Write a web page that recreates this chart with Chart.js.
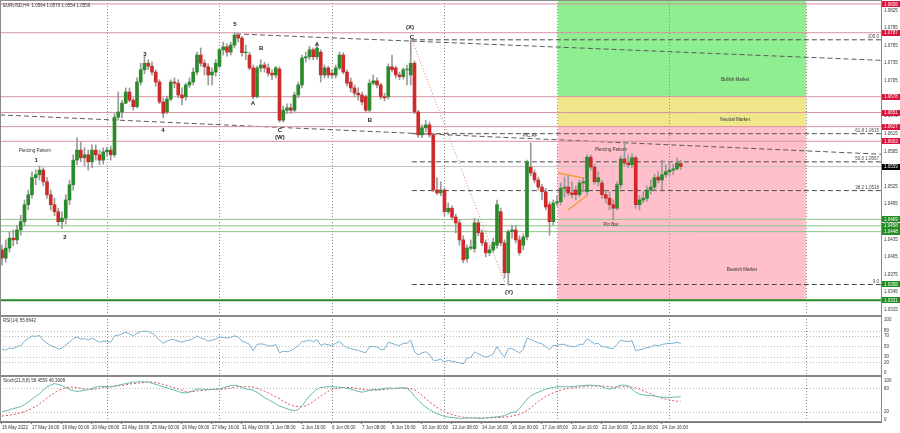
<!DOCTYPE html>
<html lang="en">
<head>
<meta charset="UTF-8">
<title>EURUSD,H4</title>
<script src="https://cdn.jsdelivr.net/npm/chart.js"></script>
<style>
    body { margin: 0; background: #fff; width: 900px; height: 433px; overflow: hidden; position: relative; }
    canvas { position: absolute; left: 0; }
    #mainChart { top: 0; }
    #rsiChart { top: 316px; }
    #stochChart { top: 376px; }
</style>
</head>
<body>
<canvas id="mainChart" width="900" height="316"></canvas>
<canvas id="rsiChart" width="900" height="60"></canvas>
<canvas id="stochChart" width="900" height="57"></canvas>
<script>
// ---- data (H4 bars, one value per bar) ----
const opens = [
    1.0417,1.0403,1.0420,1.0437,1.0434,1.0451,1.0465,1.0494,1.0511,1.0540,
    1.0545,1.0553,1.0533,1.0511,1.0494,1.0482,1.0465,1.0471,1.0502,1.0528,
    1.0570,1.0587,1.0574,1.0579,1.0567,1.0587,1.0579,1.0570,1.0584,1.0587,
    1.0579,1.0643,1.0652,1.0667,1.0686,1.0672,1.0661,1.0703,1.0724,1.0735,
    1.0730,1.0720,1.0703,1.0669,1.0652,1.0674,1.0703,1.0701,1.0681,1.0678,
    1.0698,1.0703,1.0720,1.0749,1.0735,1.0729,1.0715,1.0720,1.0730,1.0758,
    1.0763,1.0754,1.0766,1.0783,1.0778,1.0753,1.0749,1.0727,1.0678,1.0727,
    1.0732,1.0727,1.0718,1.0715,1.0725,1.0638,1.0655,1.0659,1.0655,1.0681,
    1.0698,1.0744,1.0746,1.0758,1.0746,1.0754,1.0715,1.0727,1.0718,1.0715,
    1.0727,1.0749,1.0720,1.0703,1.0693,1.0684,1.0681,1.0678,1.0655,1.0701,
    1.0705,1.0698,1.0678,1.0678,1.0729,1.0727,1.0715,1.0712,1.0724,1.0715,
    1.0735,1.0652,1.0613,1.0625,1.0630,1.0613,1.0519,1.0514,1.0519,1.0482,
    1.0488,1.0473,1.0463,1.0434,1.0402,1.0420,1.0419,1.0463,1.0446,1.0429,
    1.0412,1.0417,1.0425,1.0482,1.0429,1.0378,1.0448,1.0451,1.0434,1.0425,
    1.0439,1.0558,1.0548,1.0536,1.0524,1.0516,1.0494,1.0465,1.0497,1.0499,
    1.0522,1.0524,1.0514,1.0519,1.0511,1.0531,1.0516,1.0575,1.0558,1.0533,
    1.0531,1.0511,1.0505,1.0494,1.0488,1.0528,1.0572,1.0565,1.0562,1.0574,
    1.0494,1.0502,1.0505,1.0519,1.0524,1.0541,1.0536,1.0545,1.0550,1.0553,
    1.0555,1.0564
];
const highs = [
    1.0425,1.0434,1.0448,1.0451,1.0459,1.0476,1.0502,1.0519,1.0550,1.0553,
    1.0560,1.0557,1.0540,1.0519,1.0505,1.0488,1.0482,1.0511,1.0536,1.0579,
    1.0608,1.0601,1.0591,1.0587,1.0596,1.0596,1.0587,1.0591,1.0592,1.0594,
    1.0649,1.0686,1.0672,1.0693,1.0693,1.0676,1.0710,1.0735,1.0747,1.0741,
    1.0737,1.0724,1.0707,1.0676,1.0679,1.0707,1.0710,1.0707,1.0693,1.0701,
    1.0710,1.0727,1.0754,1.0761,1.0741,1.0734,1.0727,1.0741,1.0761,1.0771,
    1.0768,1.0771,1.0787,1.0785,1.0781,1.0766,1.0754,1.0732,1.0730,1.0741,
    1.0737,1.0734,1.0724,1.0730,1.0729,1.0662,1.0666,1.0666,1.0686,1.0703,
    1.0749,1.0754,1.0764,1.0761,1.0768,1.0758,1.0732,1.0730,1.0724,1.0732,
    1.0754,1.0753,1.0724,1.0710,1.0698,1.0693,1.0686,1.0681,1.0707,1.0715,
    1.0710,1.0701,1.0684,1.0734,1.0749,1.0730,1.0720,1.0727,1.0732,1.0775,
    1.0739,1.0655,1.0630,1.0638,1.0635,1.0616,1.0540,1.0533,1.0522,1.0497,
    1.0492,1.0478,1.0468,1.0441,1.0425,1.0434,1.0471,1.0468,1.0451,1.0434,
    1.0424,1.0437,1.0502,1.0488,1.0434,1.0451,1.0459,1.0458,1.0441,1.0444,
    1.0570,1.0599,1.0553,1.0541,1.0529,1.0522,1.0499,1.0502,1.0509,1.0531,
    1.0541,1.0543,1.0533,1.0526,1.0536,1.0540,1.0579,1.0579,1.0563,1.0550,
    1.0536,1.0519,1.0516,1.0502,1.0533,1.0577,1.0601,1.0579,1.0581,1.0577,
    1.0509,1.0516,1.0526,1.0536,1.0546,1.0550,1.0570,1.0562,1.0567,1.0563,
    1.0574,1.0570
];
const lows = [
    1.0391,1.0396,1.0413,1.0424,1.0427,1.0442,1.0458,1.0485,1.0505,1.0528,
    1.0536,1.0526,1.0505,1.0485,1.0475,1.0458,1.0453,1.0461,1.0494,1.0519,
    1.0562,1.0567,1.0560,1.0553,1.0557,1.0570,1.0562,1.0563,1.0577,1.0570,
    1.0575,1.0638,1.0642,1.0666,1.0669,1.0655,1.0659,1.0698,1.0717,1.0724,
    1.0715,1.0696,1.0666,1.0642,1.0649,1.0671,1.0693,1.0676,1.0664,1.0672,
    1.0693,1.0698,1.0715,1.0730,1.0715,1.0698,1.0698,1.0713,1.0727,1.0749,
    1.0747,1.0749,1.0761,1.0771,1.0747,1.0741,1.0724,1.0674,1.0676,1.0720,
    1.0720,1.0713,1.0707,1.0710,1.0635,1.0635,1.0649,1.0649,1.0652,1.0676,
    1.0693,1.0737,1.0741,1.0741,1.0741,1.0703,1.0710,1.0710,1.0710,1.0710,
    1.0724,1.0717,1.0696,1.0686,1.0678,1.0672,1.0664,1.0652,1.0652,1.0698,
    1.0693,1.0674,1.0671,1.0674,1.0720,1.0710,1.0707,1.0708,1.0698,1.0698,
    1.0649,1.0609,1.0608,1.0618,1.0609,1.0516,1.0511,1.0509,1.0475,1.0478,
    1.0468,1.0446,1.0425,1.0395,1.0396,1.0417,1.0413,1.0441,1.0424,1.0405,
    1.0407,1.0413,1.0420,1.0424,1.0369,1.0357,1.0437,1.0429,1.0408,1.0417,
    1.0434,1.0543,1.0531,1.0519,1.0502,1.0485,1.0442,1.0459,1.0492,1.0494,
    1.0507,1.0509,1.0505,1.0502,1.0507,1.0516,1.0512,1.0553,1.0529,1.0526,
    1.0505,1.0497,1.0485,1.0468,1.0485,1.0522,1.0560,1.0557,1.0557,1.0488,
    1.0485,1.0497,1.0500,1.0512,1.0519,1.0531,1.0519,1.0540,1.0543,1.0545,
    1.0553,1.0554
];
const closes = [
    1.0403,1.0420,1.0437,1.0434,1.0451,1.0465,1.0494,1.0511,1.0540,1.0545,
    1.0553,1.0533,1.0511,1.0494,1.0482,1.0465,1.0471,1.0502,1.0528,1.0570,
    1.0587,1.0574,1.0579,1.0567,1.0587,1.0579,1.0570,1.0584,1.0587,1.0579,
    1.0643,1.0652,1.0667,1.0686,1.0672,1.0661,1.0703,1.0724,1.0735,1.0730,
    1.0720,1.0703,1.0669,1.0650,1.0674,1.0703,1.0701,1.0681,1.0676,1.0698,
    1.0703,1.0720,1.0749,1.0735,1.0729,1.0715,1.0720,1.0735,1.0758,1.0763,
    1.0754,1.0766,1.0783,1.0778,1.0753,1.0754,1.0727,1.0678,1.0727,1.0732,
    1.0727,1.0718,1.0715,1.0727,1.0638,1.0655,1.0659,1.0655,1.0681,1.0698,
    1.0744,1.0746,1.0758,1.0746,1.0761,1.0715,1.0727,1.0715,1.0715,1.0727,
    1.0749,1.0720,1.0701,1.0693,1.0684,1.0681,1.0669,1.0655,1.0701,1.0705,
    1.0698,1.0678,1.0676,1.0729,1.0724,1.0715,1.0712,1.0724,1.0725,1.0735,
    1.0652,1.0613,1.0625,1.0630,1.0613,1.0519,1.0514,1.0519,1.0482,1.0488,
    1.0473,1.0463,1.0434,1.0400,1.0420,1.0422,1.0463,1.0446,1.0429,1.0412,
    1.0417,1.0430,1.0494,1.0429,1.0378,1.0448,1.0451,1.0434,1.0412,1.0439,
    1.0567,1.0548,1.0536,1.0524,1.0516,1.0490,1.0465,1.0497,1.0499,1.0522,
    1.0524,1.0514,1.0511,1.0511,1.0531,1.0533,1.0575,1.0558,1.0533,1.0540,
    1.0511,1.0505,1.0494,1.0488,1.0528,1.0572,1.0565,1.0562,1.0574,1.0494,
    1.0502,1.0505,1.0519,1.0524,1.0540,1.0536,1.0545,1.0550,1.0553,1.0555,
    1.0565,1.0559
];
const rsiValues = [
    45,43,47,46,50,52,60,65,70,69, 71,62,56,52,49,45,47,53,58,65,
    68,64,65,62,66,62,58,60,60,58, 70,71,74,77,74,70,75,78,79,78,
    75,70,62,56,60,63,63,60,58,61, 62,65,70,66,64,60,62,64,68,67,
    66,67,70,68,60,58,54,42,54,55, 54,51,51,54,38,41,40,42,46,52,
    59,60,62,59,63,52,55,53,52,56, 60,52,48,46,44,43,40,38,50,50,
    49,44,44,58,56,53,52,56,56,62, 40,34,38,40,35,24,24,26,21,24,
    22,21,19,17,28,29,40,36,33,30, 32,36,50,38,30,46,46,42,38,44,
    66,63,60,57,55,50,44,52,52,54, 54,51,50,50,54,54,65,60,55,56,
    50,49,47,46,54,62,60,59,61,42, 44,45,48,49,53,51,54,55,56,56,
    58,55.8642
];
const stochMain = [
    20,22,25,28,30, 33,38,45,52,59, 66,75,84,88,92, 90,87,82,77,74,
    72,73,75,77,80, 83,85,85,84,84, 86,88,90,92,94, 96,96,97,96,96,
    93,90,87,84,81, 78,75,72,69,68, 70,74,78,78,77, 77,77,78,79,81,
    84,87,88,86,82, 78,77,75,70,63, 56,51,46,40,35, 31,28,24,23,25,
    35,48,60,70,78, 82,83,84,84,83, 83,82,80,78,75, 72,70,72,75,77,
    76,78,80,81,80, 80,81,82,80,72, 60,50,40,32,25, 20,15,11,8,6,
    5,4,3,3,4, 4,4,3,3,4, 5,6,7,8,10, 14,18,20,28,40,
    52,60,66,70,74, 78,80,82,84,84, 84,84,85,85,86, 87,88,88,87,86,
    84,80,78,80,84, 88,88,86,78,70, 65,63,62,62,60, 58,57,57,56,57,
    58,58.4559
];
const stochSignal = [
    9,10,11,13,15, 17,20,24,29,33, 40,47,55,62,68, 74,78,81,83,83,
    82,80,78,77,77, 78,80,82,83,84, 85,86,87,89,91, 92,93,94,95,96,
    96,95,93,90,87, 84,81,78,75,72, 71,72,73,74,75, 76,77,77,77,78,
    79,81,83,84,84, 84,84,83,80,76, 72,68,63,58,53, 47,42,37,34,33,
    33,35,40,46,53, 60,66,72,76,79, 81,82,82,82,81, 79,77,76,75,75,
    75,76,77,78,79, 79,80,80,80,79, 76,70,62,54,45, 38,31,25,20,16,
    13,10,8,6,5, 4,4,4,4,4, 4,4,5,5,6, 7,9,11,13,17,
    23,30,38,46,53, 59,64,68,72,75, 78,80,81,82,83, 84,85,86,86,86,
    86,85,84,83,83, 83,84,84,83,81, 78,74,70,66,62, 58,55,52,50,48,
    47,46.3908
];
// one label every 8 bars
const timeLabels = ['16 May 2022','17 May 16:00','19 May 00:00','20 May 08:00','23 May 16:00','25 May 00:00',
    '26 May 08:00','27 May 16:00','31 May 00:00','1 Jun 08:00','2 Jun 16:00','6 Jun 00:00','7 Jun 08:00',
    '8 Jun 16:00','10 Jun 00:00','13 Jun 08:00','14 Jun 16:00','16 Jun 00:00','17 Jun 08:00','20 Jun 16:00',
    '22 Jun 00:00','23 Jun 08:00','24 Jun 16:00'];
const priceTicks = [1.0315,1.0345,1.0375,1.0405,1.0435,1.0465,1.0495,1.0525,1.0555,1.0585,
    1.0615,1.0645,1.0675,1.0705,1.0735,1.0765,1.0795,1.0825];
const rsiTicks = [0, 20, 30, 50, 70, 80, 100];
const stochTicks = [0, 20, 80, 100];
const redLevels = [1.0836, 1.0787, 1.0678, 1.0651, 1.0627, 1.0602];
const greenLevels = [1.0469, 1.0458, 1.0448];
const supportLevel = 1.0331;
const fibLow = 1.0358;
const fibLevels = [['100.0', 1.0775], ['61.8 1.0615', 1.0615], ['50.0 1.0567', 1.0567], ['38.2 1.0518', 1.0518], ['0.0', 1.0358]];
const gridBars = [28, 58, 88, 118, 148, 178, 214.5];

const X_MIN = -0.53, X_MAX = 234.4;
const P_MIN = 1.03043, P_MAX = 1.08428;
const FONT = "'Liberation Sans', 'DejaVu Sans', sans-serif";
const UP = '#2b8a2b', DOWN = '#cf2a2a';

Chart.defaults.font.family = FONT;
Chart.defaults.font.size = 4.5;
Chart.defaults.color = '#333';
Chart.defaults.animation = false;

const last = closes.length - 1;
const bars = opens.map((_, i) => i);

function segment(x1, y1, x2, y2, color, width, dash) {
    return {
        type: 'line', data: [{x: x1, y: y1}, {x: x2, y: y2}],
        borderColor: color, borderWidth: width, borderDash: dash || [],
        pointRadius: 0, fill: false, order: 3
    };
}

function rightAxis(min, max, ticks, fmt) {
    return {
        type: 'linear', position: 'right', min: min, max: max,
        afterBuildTicks: s => { s.ticks = ticks.map(v => ({value: v})); },
        afterFit: s => { s.width = 19; s.paddingTop = 0; s.paddingBottom = 0; },
        ticks: { padding: 3, font: {size: 4.5}, color: '#333', callback: fmt },
        grid: { display: false, drawTicks: false, tickLength: 0 },
        border: { display: true, color: '#777' }
    };
}

// dotted vertical grid, optional dotted level lines, frame
const panelGuides = {
    id: 'panelGuides',
    beforeDatasetsDraw(chart, args, opts) {
        const {ctx, chartArea: a, scales: {x, y}} = chart;
        ctx.save();
        if (opts.zones) {
            const x1 = x.getPixelForValue(148.2), x2 = x.getPixelForValue(214.4);
            opts.zones.forEach(z => {
                const y1 = y.getPixelForValue(z.top), y2 = y.getPixelForValue(z.bottom);
                ctx.fillStyle = z.color;
                ctx.fillRect(x1, y1, x2 - x1, y2 - y1);
            });
        }
        ctx.strokeStyle = '#8a8a8a';
        ctx.lineWidth = 1;
        ctx.setLineDash([1, 2]);
        gridBars.forEach(b => {
            const px = Math.round(x.getPixelForValue(b)) + 0.5;
            ctx.beginPath(); ctx.moveTo(px, a.top); ctx.lineTo(px, a.bottom); ctx.stroke();
        });
        ctx.strokeStyle = '#b8b8b8';
        (opts.levels || []).forEach(v => {
            const py = Math.round(y.getPixelForValue(v)) + 0.5;
            ctx.beginPath(); ctx.moveTo(a.left, py); ctx.lineTo(a.right, py); ctx.stroke();
        });
        ctx.restore();
    },
    afterDraw(chart, args, opts) {
        const {ctx, chartArea: a} = chart;
        ctx.save();
        ctx.strokeStyle = '#8a8a8a';
        ctx.lineWidth = 1;
        ctx.strokeRect(a.left + 0.5, a.top + 0.5, a.right - a.left, a.bottom - a.top - 1);
        if (opts.title) {
            ctx.font = '4.5px ' + FONT;
            ctx.fillStyle = '#333';
            ctx.textAlign = 'left';
            ctx.textBaseline = 'middle';
            ctx.fillText(opts.title, a.left + 3, a.top + 5);
        }
        ctx.restore();
    }
};

// labels on the main chart
const waveLabels = [['1', 9.1, 1.0570], ['2', 16.8, 1.0439], ['3', 38.1, 1.0751], ['4', 42.9, 1.0620],
    ['5', 62.1, 1.0802], ['A', 66.9, 1.0667], ['B', 69.1, 1.0761], ['C', 74.1, 1.0621], ['(W)', 74.1, 1.0608],
    ['A', 84, 1.0768], ['B', 98.1, 1.0638], ['(X)', 108.8, 1.0797], ['C', 109.3, 1.0779], ['(Y)', 135.2, 1.0344]];
const noteLabels = [['Piercing Pattern', 8.8, 1.0586], ['Piercing Pattern', 162.4, 1.0587], ['Pin Bar', 162.4, 1.0459],
    ['Bullish Market', 195.5, 1.0707], ['Neutral Market', 195.5, 1.0638], ['Bearish Market', 197.3, 1.0383],
    ['PIC:AF', 140.8, 1.0612]];
const priceBoxes = [[1.0836, '#dc143c'], [1.0787, '#dc143c'], [1.0678, '#dc143c'], [1.0651, '#dc143c'],
    [1.0627, '#dc143c'], [1.0602, '#dc143c'], [closes[last], '#000'], [1.0469, '#228b22'], [1.0458, '#228b22'],
    [1.0448, '#228b22'], [fibLow, '#228b22'], [supportLevel, '#228b22']];

const mainLabels = {
    id: 'mainLabels',
    afterDraw(chart) {
        const {ctx, chartArea: a, scales: {x, y}} = chart;
        ctx.save();
        ctx.textBaseline = 'middle';
        ctx.textAlign = 'center';
        ctx.fillStyle = '#222';
        ctx.font = 'bold 6px ' + FONT;
        waveLabels.forEach(([t, i, p]) => ctx.fillText(t, x.getPixelForValue(i), y.getPixelForValue(p)));
        ctx.font = '4.5px ' + FONT;
        ctx.fillStyle = '#333';
        noteLabels.forEach(([t, i, p]) => ctx.fillText(t, x.getPixelForValue(i), y.getPixelForValue(p)));
        ctx.textAlign = 'right';
        ctx.textBaseline = 'bottom';
        ctx.fillStyle = '#444';
        fibLevels.forEach(([t, p]) => ctx.fillText(t, a.right - 2, y.getPixelForValue(p) - 0.5));
        ctx.textAlign = 'left';
        ctx.textBaseline = 'middle';
        ctx.fillStyle = '#333';
        ctx.fillText('EURUSD,H4  ' + [opens[last], highs[last], lows[last], closes[last]].map(v => v.toFixed(4)).join(' '), a.left + 3, a.top + 5.5);
        priceBoxes.forEach(([p, c]) => {
            const py = y.getPixelForValue(p);
            ctx.fillStyle = c;
            ctx.fillRect(a.right + 1, Math.round(py - 3), 18, 6);
            ctx.fillStyle = '#fff';
            ctx.fillText(p.toFixed(4), a.right + 3, py + 0.3);
        });
        ctx.restore();
    }
};

const datasets = [
    { type: 'bar', data: bars.map(i => ({x: i, y: [opens[i], closes[i]]})),
      backgroundColor: bars.map(i => closes[i] >= opens[i] ? UP : DOWN),
      barThickness: 3, grouped: false, borderWidth: 0, order: 0 },
    { type: 'bar', data: bars.map(i => ({x: i, y: [lows[i], highs[i]]})),
      backgroundColor: '#9a9a9a', barThickness: 1, grouped: false, borderWidth: 0, order: 1 }
];
redLevels.forEach(v => datasets.push(segment(X_MIN, v, X_MAX, v, '#d6939e', 1)));
greenLevels.forEach(v => datasets.push(segment(X_MIN, v, X_MAX, v, '#88c488', 1)));
datasets.push(segment(X_MIN, supportLevel, X_MAX, supportLevel, '#2a8a2a', 2));
datasets.push(segment(X_MIN, closes[last], X_MAX, closes[last], '#c4c4c4', 1));
// trend lines
datasets.push(segment(62.4, 1.0785, X_MAX, 1.0740, '#5a5a5a', 1, [5, 3]));
datasets.push(segment(X_MIN, 1.0647, X_MAX, 1.0580, '#5a5a5a', 1, [5, 3]));
// fibonacci retracement from (X) down to (Y)
fibLevels.forEach(([t, p]) => datasets.push(segment(109.3, p, X_MAX, p, '#4a4a4a', 1, [5, 3])));
datasets.push(segment(109.3, 1.0775, 134.1, 1.0361, '#e07070', 1, [1, 2]));
// triangle
datasets.push(segment(148.3, 1.0548, 154.9, 1.05395, '#f39c2c', 1.3));
datasets.push(segment(150.9, 1.0485, 156.3, 1.0511, '#f39c2c', 1.3));

const hiddenX = { type: 'linear', min: X_MIN, max: X_MAX, offset: false, display: false };

new Chart(document.getElementById('mainChart'), {
    type: 'bar',
    data: { datasets: datasets },
    options: {
        responsive: false, events: [],
        layout: { padding: 0 },
        scales: {
            x: hiddenX,
            y: rightAxis(P_MIN, P_MAX, priceTicks, v => v.toFixed(4))
        },
        plugins: {
            legend: { display: false }, tooltip: { enabled: false },
            panelGuides: { zones: [
                { top: P_MAX, bottom: 1.0678, color: '#8fee8f' },
                { top: 1.0678, bottom: 1.0627, color: '#f0e68c' },
                { top: 1.0627, bottom: supportLevel, color: '#ffc0cb' }
            ] }
        }
    },
    plugins: [panelGuides, mainLabels]
});

new Chart(document.getElementById('rsiChart'), {
    type: 'line',
    data: { datasets: [{
        data: bars.map(i => ({x: i, y: rsiValues[i]})),
        borderColor: '#7ab0cf', borderWidth: 1, pointRadius: 0, fill: false
    }] },
    options: {
        responsive: false, events: [],
        layout: { padding: 0 },
        scales: { x: hiddenX, y: rightAxis(-5.66, 107.5, rsiTicks, v => String(v)) },
        plugins: {
            legend: { display: false }, tooltip: { enabled: false },
            panelGuides: { levels: [20, 30, 50, 70, 80], title: 'RSI(14) ' + rsiValues[last].toFixed(4) }
        }
    },
    plugins: [panelGuides]
});

new Chart(document.getElementById('stochChart'), {
    type: 'line',
    data: { datasets: [
        { data: bars.map(i => ({x: i, y: stochMain[i]})), borderColor: '#66b8b0', borderWidth: 1, pointRadius: 0, fill: false },
        { data: bars.map(i => ({x: i, y: stochSignal[i]})), borderColor: '#d9534f', borderWidth: 1, borderDash: [2, 2], pointRadius: 0, fill: false }
    ] },
    options: {
        responsive: false, events: [],
        layout: { padding: 0 },
        scales: {
            x: {
                type: 'linear', min: X_MIN, max: X_MAX, offset: false,
                afterBuildTicks: s => { s.ticks = timeLabels.map((t, k) => ({value: k * 8})); },
                afterFit: s => { s.height = 11; s.paddingLeft = 0; s.paddingRight = 0; },
                ticks: { autoSkip: false, maxRotation: 0, align: 'start', padding: 1, font: {size: 4.5}, color: '#333',
                         callback: (v, k) => timeLabels[k] },
                grid: { display: true, drawOnChartArea: false, drawTicks: true, tickLength: 2, color: '#777' },
                border: { display: true, color: '#777' }
            },
            y: rightAxis(-6.4, 111.5, stochTicks, v => String(v))
        },
        plugins: {
            legend: { display: false }, tooltip: { enabled: false },
            panelGuides: { levels: [20, 80],
                title: 'Stoch(21,8,8) ' + stochMain[last].toFixed(4) + ' ' + stochSignal[last].toFixed(4) }
        }
    },
    plugins: [panelGuides]
});
</script>
</body>
</html>
